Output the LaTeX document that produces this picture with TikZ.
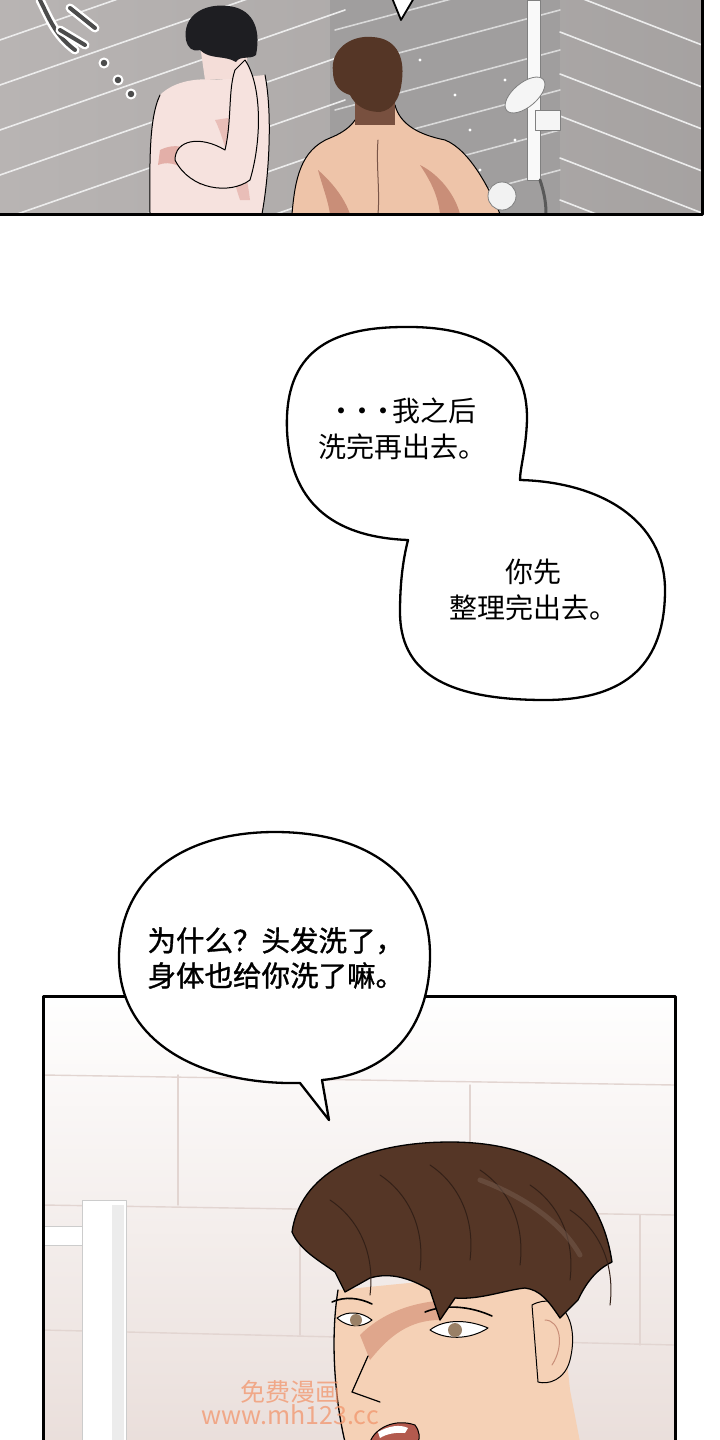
\documentclass[tikz,border=0pt]{standalone}
\usepackage{fontspec}
\newfontfamily\cjk{Noto Sans CJK SC}
\newfontfamily\cjkb{Noto Sans CJK SC}[FakeBold=1.2]
\usepackage{xcolor}
\usetikzlibrary{positioning, calc}

\definecolor{wallgray}{HTML}{B8B4B3}
\definecolor{walldark}{HTML}{8F8D8D}
\definecolor{paleskin}{HTML}{F6E2DE}
\definecolor{paleshade}{HTML}{E3AFA8}
\definecolor{warmskin}{HTML}{EEC4A9}
\definecolor{warmshade}{HTML}{C98E78}
\definecolor{darkhair}{HTML}{1E1E22}
\definecolor{brownhair}{HTML}{553626}
\definecolor{pinkwall}{HTML}{F3E7E3}
\definecolor{pinkline}{HTML}{E2D5D1}
\definecolor{faceskin}{HTML}{F5D1B6}
\definecolor{faceshade}{HTML}{DFA68C}
\definecolor{mouthred}{HTML}{B35A4E}
\definecolor{markorange}{HTML}{F2956C}

\begin{document}
\begin{tikzpicture}[x=1pt, y=-1pt, line join=round, line cap=round,
    panel/.style={draw=black, line width=3pt},
    bubble/.style={draw=black, fill=white, line width=2.3pt},
    talk/.style={font=\cjk\fontsize{28}{36}\selectfont, text=black, align=center},
    talkb/.style={font=\cjkb\fontsize{28.5}{35}\selectfont, text=black, align=left},
    tileline/.style={draw=white!85!gray, line width=1.6pt},
    softline/.style={draw=pinkline, line width=1.4pt},
    inkline/.style={draw=black, line width=1pt},
    sitemark/.style={font=\cjk\fontsize{25}{27}\selectfont, text=markorange, opacity=0.75}]
  \useasboundingbox (0,0) rectangle (720,1440);
  \fill[white] (0,0) rectangle (720,1440);

  % top panel: the shower
  \begin{scope}
    \clip (0,0) rectangle (702,214);
    \shade[left color=wallgray, right color=wallgray!90!black] (0,0) rectangle (702,214);
    \fill[walldark!85!white] (330,0) -- (560,0) -- (560,214) -- (330,214) -- cycle;
    \foreach \k in {0,...,7}
      \draw[tileline] (0,{40+45*\k}) -- (345,{-80+45*\k});
    \foreach \k in {0,...,6}
      \draw[tileline] (560,{-10+42*\k}) -- (702,{45+42*\k});
    \foreach \k in {0,...,5}
      \draw[tileline, white!70!gray] (335,{30+40*\k}) -- (560,{-30+40*\k});
    \foreach \p in {(360,40),(380,75),(420,60),(455,95),(470,130),(440,150),(505,80),(330,190),(480,170),(515,140)}
      \fill[white] \p circle (1.6pt);
    % dark haired man
    \fill[paleskin] (160,95) .. controls (175,80) and (200,78) .. (215,80)
      -- (265,75) .. controls (272,110) and (270,170) .. (262,214) -- (150,214)
      .. controls (150,170) and (148,120) .. (160,95) -- cycle;
    \draw[inkline] (160,95) .. controls (148,120) and (150,170) .. (150,214);
    \draw[inkline] (265,75) .. controls (272,110) and (270,170) .. (262,214);
    \fill[paleskin!90!paleshade] (200,45) -- (248,45) -- (246,78) -- (205,80) -- cycle;
    \fill[paleshade] (160,150) .. controls (180,140) and (200,150) .. (215,175)
      -- (200,185) .. controls (185,165) and (170,160) .. (158,165) -- cycle;
    \fill[paleshade!70!paleskin] (215,120) .. controls (225,140) and (230,170) .. (240,200)
      -- (250,200) .. controls (245,160) and (235,130) .. (228,118) -- cycle;
    \draw[inkline, fill=paleskin] (245,60) .. controls (262,85) and (262,140) .. (250,180)
      .. controls (230,195) and (190,190) .. (175,160) .. controls (175,140) and (200,135) .. (225,150)
      .. controls (232,120) and (228,90) .. (235,70) -- cycle;
    \fill[darkhair] (186,40) .. controls (182,15) and (205,3) .. (228,6)
      .. controls (250,8) and (262,25) .. (256,55) .. controls (250,60) and (240,55) .. (236,62)
      .. controls (225,55) and (210,60) .. (200,50) .. controls (192,52) and (188,48) .. (186,40) -- cycle;
    % brown haired man, seen from the back
    \fill[warmskin] (292,214) .. controls (295,180) and (300,150) .. (330,138)
      .. controls (350,130) and (360,118) .. (360,105) -- (395,105)
      .. controls (400,125) and (420,135) .. (445,140) .. controls (470,150) and (490,190) .. (500,214) -- cycle;
    \draw[inkline] (292,214) .. controls (295,180) and (300,150) .. (330,138)
      .. controls (350,130) and (360,118) .. (360,105);
    \draw[inkline] (395,105) .. controls (400,125) and (420,135) .. (445,140)
      .. controls (470,150) and (490,190) .. (500,214);
    \fill[warmshade] (318,170) .. controls (335,185) and (345,200) .. (350,214) -- (330,214)
      .. controls (328,200) and (322,185) .. (318,170) -- cycle;
    \fill[warmshade] (420,165) .. controls (440,175) and (455,195) .. (460,214) -- (440,214)
      .. controls (438,195) and (430,180) .. (420,165) -- cycle;
    \draw[inkline, warmshade!60!black] (378,140) .. controls (376,165) and (380,190) .. (378,214);
    \fill[brownhair!70!warmshade] (355,95) rectangle (395,125);
    \fill[brownhair] (333,72) .. controls (330,50) and (350,35) .. (372,37)
      .. controls (395,38) and (405,55) .. (402,80) .. controls (400,100) and (392,110) .. (380,112)
      .. controls (365,112) and (355,105) .. (350,95) .. controls (340,92) and (333,85) .. (333,72) -- cycle;
    % shower pole and head
    \draw[gray, fill=white!95!gray, line width=0.8pt] (527,0) rectangle (540,180);
    \draw[gray!70!black, line width=3pt] (540,180) .. controls (545,195) and (546,205) .. (546,214);
    \draw[gray, fill=white!92!gray, line width=0.8pt, rotate around={40:(525,95)}] (525,95) ellipse (24pt and 12pt);
    \draw[gray, fill=white!92!gray, line width=0.8pt] (535,110) rectangle (560,130);
    \draw[gray, fill=white!90!gray, line width=0.8pt] (502,196) circle (14pt);
    % the tail of a bubble above the page
    \draw[bubble, line width=1.8pt] (392,-2) -- (401,20) -- (414,-2);
    % sound effect
    \foreach \p in {(104,63),(118,80),(131,94)}
      \fill[gray!60!black, draw=white, line width=2pt] \p circle (4.5pt);
    \draw[white, line width=9pt] (40,0) .. controls (50,20) and (55,35) .. (75,50);
    \draw[gray!60!black, line width=4pt] (40,0) .. controls (50,20) and (55,35) .. (75,50);
    \draw[white, line width=9pt] (70,8) -- (95,28) (60,30) -- (85,45);
    \draw[gray!60!black, line width=4pt] (70,8) -- (95,28) (60,30) -- (85,45);
  \end{scope}
  \draw[panel] (0,214) -- (702,214) -- (702,-2);

  % bottom panel: the close up
  \begin{scope}
    \clip (43,996) rectangle (675,1442);
    \shade[top color=white!97!pinkwall, bottom color=pinkwall!92!gray] (43,996) rectangle (675,1442);
    \draw[softline] (43,1075) -- (675,1085);
    \draw[softline] (43,1205) -- (675,1215);
    \draw[softline] (43,1330) -- (675,1345);
    \draw[softline] (178,1075) -- (178,1205);
    \draw[softline] (470,1085) -- (470,1210);
    \draw[softline] (640,1215) -- (640,1345);
    \draw[softline] (300,1210) -- (300,1335);
    % shower pipe
    \draw[gray!40, fill=white, line width=0.8pt] (43,1226) -- (85,1226) -- (85,1245) -- (43,1245);
    \draw[gray!40, fill=white, line width=0.8pt] (82,1200) rectangle (126,1442);
    \fill[gray!15] (112,1205) rectangle (124,1442);
    % face
    \fill[faceskin] (338,1290) .. controls (330,1340) and (335,1400) .. (345,1442)
      -- (580,1442) -- (570,1390) .. controls (565,1340) and (560,1300) .. (540,1270) -- cycle;
    \draw[inkline, line width=1.3pt] (338,1290) .. controls (330,1340) and (335,1400) .. (345,1442);
    \fill[faceshade] (360,1335) .. controls (385,1310) and (420,1300) .. (455,1300)
      -- (440,1320) .. controls (410,1320) and (390,1335) .. (370,1360) -- cycle;
    \draw[inkline, line width=1.2pt] (368,1356) -- (352,1392) -- (380,1402);
    % eyes and brows
    \draw[inkline, fill=white] (337,1318) .. controls (348,1310) and (362,1312) .. (372,1320)
      .. controls (362,1328) and (348,1328) .. (337,1318) -- cycle;
    \fill[gray!60!brown] (356,1320) circle (6pt);
    \draw[inkline, fill=white] (430,1330) .. controls (445,1318) and (470,1320) .. (488,1328)
      .. controls (470,1340) and (445,1340) .. (430,1330) -- cycle;
    \fill[gray!60!brown] (455,1330) circle (7pt);
    \draw[inkline, line width=1.6pt] (332,1302) .. controls (345,1296) and (360,1298) .. (372,1304);
    \draw[inkline, line width=1.6pt] (425,1312) .. controls (445,1304) and (470,1306) .. (492,1316);
    % ear
    \draw[inkline, fill=faceskin] (532,1305) .. controls (560,1290) and (580,1320) .. (570,1360)
      .. controls (565,1380) and (548,1385) .. (538,1382) -- cycle;
    \draw[inkline, warmshade] (545,1320) .. controls (560,1320) and (565,1345) .. (552,1365);
    % mouth
    \draw[inkline, fill=mouthred] (370,1442) .. controls (375,1428) and (395,1418) .. (415,1425)
      .. controls (420,1432) and (420,1438) .. (418,1442) -- cycle;
    \fill[white] (378,1432) .. controls (388,1426) and (400,1424) .. (408,1428) -- (405,1433) .. controls (396,1432) and (386,1434) .. (380,1438) -- cycle;
    % hair
    \draw[inkline, line width=1.3pt, fill=brownhair] (292,1232) .. controls (300,1175) and (360,1142) .. (450,1142)
      .. controls (540,1142) and (600,1180) .. (612,1262)
      .. controls (595,1270) and (585,1285) .. (578,1300) -- (560,1318)
      .. controls (548,1300) and (540,1290) .. (525,1288)
      .. controls (505,1290) and (480,1300) .. (455,1298)
      -- (440,1320) -- (430,1290) .. controls (410,1278) and (390,1272) .. (370,1278)
      -- (345,1292) -- (335,1272) .. controls (318,1260) and (300,1250) .. (292,1232) -- cycle;
    \foreach \a/\b in {330/1200, 380/1175, 430/1165, 480/1170, 530/1185, 570/1210}
      \draw[brownhair!60!black, line width=1pt] (\a,\b) .. controls ({\a+30},{\b+20}) and ({\a+45},{\b+55}) .. ({\a+40},{\b+95});
    \draw[brownhair!80!white, line width=5pt, opacity=0.5] (480,1180) .. controls (520,1195) and (560,1220) .. (580,1255);
  \end{scope}
  \draw[panel] (43,1442) -- (43,996) -- (675,996) -- (675,1442);

  % speech bubbles
  \draw[bubble] (408,540) .. controls (330,537) and (290,500) .. (287,430)
    .. controls (284,352) and (330,327) .. (405,327)
    .. controls (490,326) and (528,362) .. (527,420)
    .. controls (526,450) and (520,468) .. (520,480)
    .. controls (600,482) and (665,520) .. (665,590)
    .. controls (665,662) and (628,700) .. (545,700)
    .. controls (442,700) and (400,670) .. (400,612)
    .. controls (400,578) and (404,556) .. (408,540) -- cycle;
  \draw[bubble] (300,1083) .. controls (200,1085) and (120,1042) .. (119,960)
    .. controls (118,880) and (180,832) .. (275,832)
    .. controls (372,832) and (430,880) .. (430,955)
    .. controls (430,1030) and (388,1074) .. (322,1080) -- (329,1120) -- cycle;

  \node[talk] (wait) at (402,429) {·\kern-7pt·\kern-7pt·\kern-5pt我之后\\洗完再出去。};
  \node[talk] (goout) at (533,590) {你先\\整理完出去。};
  \node[talkb, anchor=west] (why) at (144,958) {为什么？头发洗了，\\身体也给你洗了嘛。};

  % watermark
  \node[sitemark] (site) at (290,1392) {免费漫画};
  \node[sitemark, below=-6pt of site] (url) {www.mh123.cc};
\end{tikzpicture}
\end{document}
